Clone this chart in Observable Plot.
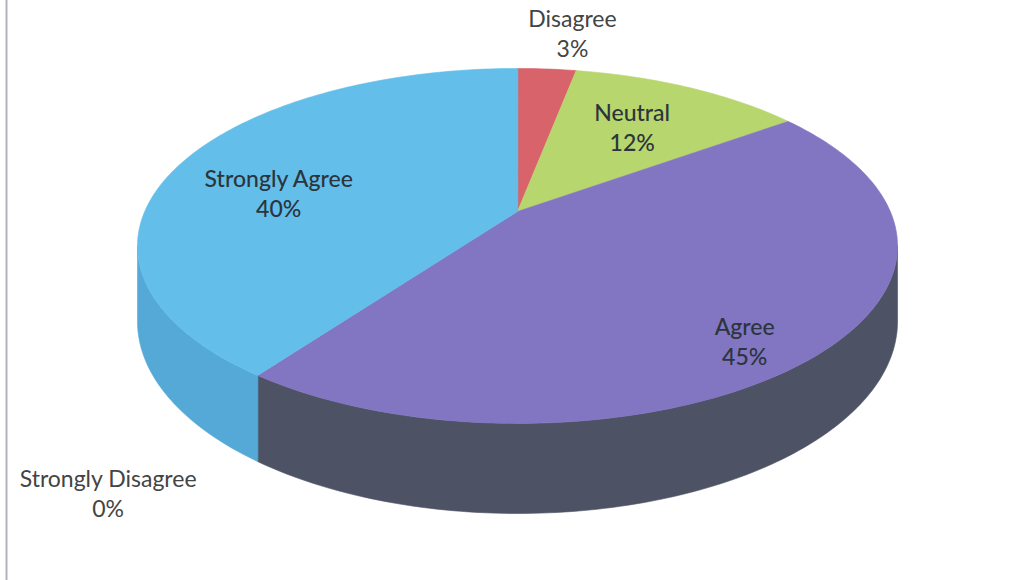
<!DOCTYPE html>
<html>
<head>
<meta charset="utf-8">
<script src="https://cdn.jsdelivr.net/npm/d3@7"></script>
<script src="https://cdn.jsdelivr.net/npm/@observablehq/plot@0.6"></script>
<style>
  html, body { margin: 0; padding: 0; background: #fff; }
  #chart { width: 1018px; height: 580px; overflow: hidden; }
</style>
</head>
<body>
<div id="chart"></div>
<script>
// ---- data ----
const categories = ["Disagree", "Neutral", "Agree", "Strongly Agree", "Strongly Disagree"];
const percents   = [3, 12, 45, 40, 0];
const topColors  = ["#d8636a", "#b7d66e", "#8276c3", "#63bfe9", "#9a9a9a"];
const sideColors = ["#a84a50", "#8fa854", "#4d5264", "#55a9d6", "#777777"];
const labelInside = [false, true, true, true, false];
// label placement in pie polar space: [angle in degrees clockwise from 12 o'clock, radius as fraction of pie radius]
const labelPolar = [[8, 1.33], [31.6, 0.65], [141, 0.845], [280, 0.665], [213.7, 1.5]];

// ---- pie geometry (perspective view of a tilted disk) ----
const W = 1018, H = 580;
const cx = 517, cy = 211;      // projected pie centre
const RX = 372.8, RY = 170.8;  // horizontal / vertical radius scale
const P = 0.194;               // perspective strength
const DEPTH = 72.6;            // thickness of the pie

function project(alphaDeg, r, drop = 0) {
  const a = alphaDeg * Math.PI / 180;
  const u = r * Math.sin(a), v = -r * Math.cos(a);
  const f = 1 / (1 - P * v);
  return { x: cx + RX * u * f, y: cy + RY * v * f + drop * f };
}

const total = d3.sum(percents);
const pie = d3.pie().sort(null).value(d => d)(percents);
const slices = pie.map((p, i) => ({
  name: categories[i], value: percents[i],
  a0: p.startAngle * 180 / Math.PI, a1: p.endAngle * 180 / Math.PI, i
}));

// front (visible) part of the side wall: where the rim faces the viewer
const silh = Math.acos(-P) * 180 / Math.PI; // angle where v = P
const front = [silh, 360 - silh];

function arcPts(a0, a1, r, drop, n) {
  const pts = [];
  for (let k = 0; k <= n; k++) pts.push(project(a0 + (a1 - a0) * k / n, r, drop));
  return pts;
}

const marks = [];
// left frame line of the original picture
marks.push(Plot.ruleX([6], { stroke: "#b3b3bb", strokeWidth: 2 }));

// side walls
for (const s of slices) {
  const a0 = Math.max(s.a0, front[0]), a1 = Math.min(s.a1, front[1]);
  if (a1 <= a0) continue;
  const n = Math.max(4, Math.ceil(a1 - a0));
  const top = arcPts(a0, a1, 1, 0, n);
  const bot = arcPts(a1, a0, 1, DEPTH, n);
  marks.push(Plot.line(top.concat(bot), {
    x: "x", y: "y", curve: "linear-closed",
    fill: sideColors[s.i], stroke: sideColors[s.i], strokeWidth: 0.6
  }));
}
// top faces
for (const s of slices) {
  if (s.a1 <= s.a0) continue;
  const n = Math.max(4, Math.ceil(s.a1 - s.a0));
  const pts = [project(0, 0)].concat(arcPts(s.a0, s.a1, 1, 0, n));
  marks.push(Plot.line(pts, {
    x: "x", y: "y", curve: "linear-closed",
    fill: topColors[s.i], stroke: topColors[s.i], strokeWidth: 0.6
  }));
}
// labels
const labels = slices.map(s => {
  const [ang, r] = labelPolar[s.i];
  const p = project(ang, r);
  return { x: p.x, y: p.y, inside: labelInside[s.i],
           text: `${s.name}\n${Math.round(s.value / total * 100)}%` };
});
const textOpts = {
  x: "x", y: "y", text: "text",
  fontSize: 23, lineHeight: 1.3,
  fontFamily: "Lato, 'Open Sans', sans-serif", textAnchor: "middle"
};
marks.push(Plot.text(labels.filter(d => d.inside), { ...textOpts, fill: "#2c343c", fontWeight: 500 }));
marks.push(Plot.text(labels.filter(d => !d.inside), { ...textOpts, fill: "#444" }));

const chart = Plot.plot({
  width: W, height: H,
  marginTop: 0, marginRight: 0, marginBottom: 0, marginLeft: 0,
  x: { domain: [0, W], range: [0, W], axis: null },
  y: { domain: [0, H], range: [0, H], axis: null },
  style: { background: "#fff" },
  marks
});
document.getElementById("chart").append(chart);
</script>
</body>
</html>
